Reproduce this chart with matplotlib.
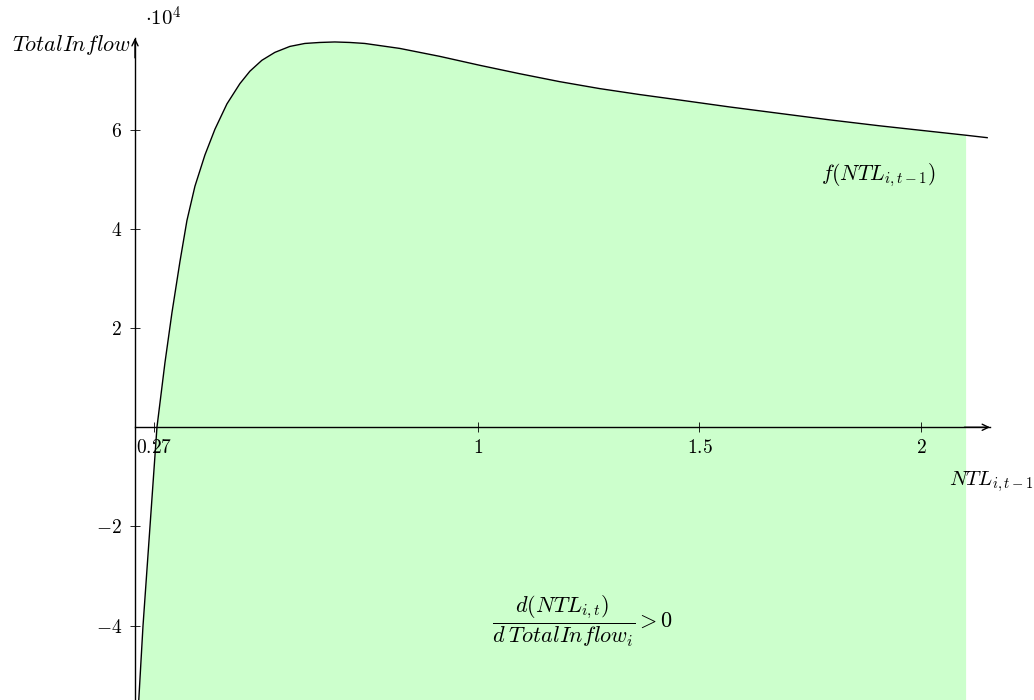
import matplotlib
matplotlib.use("Agg")
import matplotlib.pyplot as plt
import numpy as np

plt.rcParams['mathtext.fontset'] = 'cm'
plt.rcParams['font.family'] = ['DejaVu Serif']

# curve f(NTL_{i,t-1}) (y in units of 1e4)
ntl = [0.236, 0.2455, 0.2613, 0.277, 0.295, 0.3108, 0.3288, 0.3446, 0.3626,
       0.3851, 0.4077, 0.4347, 0.464, 0.4865, 0.5135, 0.5428, 0.5766, 0.6104,
       0.6441, 0.6779, 0.7117, 0.7455, 0.8243, 0.9144, 1.0045, 1.0946, 1.1847,
       1.2748, 1.3649, 1.455, 1.5676, 1.6802, 1.7928, 1.9054, 2.018, 2.1,
       2.1486]
inflow = [-5.5, -4.01, -2.0, 0.0, 1.30, 2.31, 3.34, 4.17, 4.86,
          5.49, 6.01, 6.52, 6.93, 7.18, 7.40, 7.56, 7.68, 7.74,
          7.76, 7.77, 7.76, 7.74, 7.64, 7.48, 7.30, 7.13, 6.97,
          6.83, 6.71, 6.60, 6.46, 6.33, 6.20, 6.08, 5.97, 5.89,
          5.84]
xticks = [0.27, 1, 1.5, 2]
xtick_labels = ['0.27', '1', '1.5', '2']
yticks = [-4, -2, 2, 4, 6]
ytick_labels = ['-4', '-2', '2', '4', '6']
fill_end = 2.1

SCALE = 1e4
x = np.array(ntl)
y = np.array(inflow) * SCALE

XMIN, XMAX = 0.2275, 2.155
YMIN, YMAX = -5.5e4, 7.85e4

fig = plt.figure(figsize=(10.34, 7.0), dpi=100)
ax = fig.add_axes([135 / 1034, 0.0, (990 - 135) / 1034, (700 - 38) / 700])
ax.set_xlim(XMIN, XMAX)
ax.set_ylim(YMIN, YMAX)

mask = x <= fill_end + 1e-9
ax.fill_between(x[mask], y[mask], YMIN, color='#ccffcc', lw=0, zorder=1)
ax.plot(x, y, color='black', lw=1.0, zorder=3, clip_on=False,
        solid_joinstyle='round')

for s in ['top', 'right']:
    ax.spines[s].set_visible(False)
ax.spines['bottom'].set_position(('data', 0))
ax.spines['left'].set_position(('axes', 0))
ax.spines['bottom'].set_linewidth(1.0)
ax.spines['left'].set_linewidth(1.0)

# arrowheads
arrow = dict(arrowstyle='->,head_length=0.45,head_width=0.22', lw=1.0, color='black',
             shrinkA=0, shrinkB=0)
ax.annotate('', xy=(1.0, 0), xytext=(0.97, 0),
            xycoords=ax.get_yaxis_transform(), textcoords=ax.get_yaxis_transform(),
            arrowprops=arrow, annotation_clip=False)
ax.annotate('', xy=(0, 1.0), xytext=(0, 0.97),
            xycoords='axes fraction', textcoords='axes fraction',
            arrowprops=arrow, annotation_clip=False)

ax.set_xticks(xticks)
ax.set_xticklabels(['$' + t + '$' for t in xtick_labels], fontsize=14)
ax.set_yticks([v * SCALE for v in yticks])
ax.set_yticklabels(['$' + t + '$' for t in ytick_labels], fontsize=14)
ax.tick_params(axis='both', direction='inout', length=7, width=0.6)
ax.tick_params(axis='x', pad=5)
ax.tick_params(axis='y', pad=6)

fig.text(145 / 1034, 1 - 18 / 700, r'$\cdot 10^4$', fontsize=15, ha='left', va='center')
fig.text(131 / 1034, 1 - 45 / 700, r'$TotalInflow$', fontsize=16, ha='right', va='center')
fig.text(1033 / 1034, 1 - 482 / 700, r'$NTL_{i,t-1}$', fontsize=15, ha='right', va='center')
fig.text(878 / 1034, 1 - 175 / 700, r'$f(NTL_{i,t-1})$', fontsize=15.5, ha='center', va='center')
fig.text(583 / 1034, 1 - 621 / 700, r'$\dfrac{d(NTL_{i,t})}{d\;TotalInflow_i} > 0$',
         fontsize=16, ha='center', va='center')

fig.savefig('out.png', dpi=100)
